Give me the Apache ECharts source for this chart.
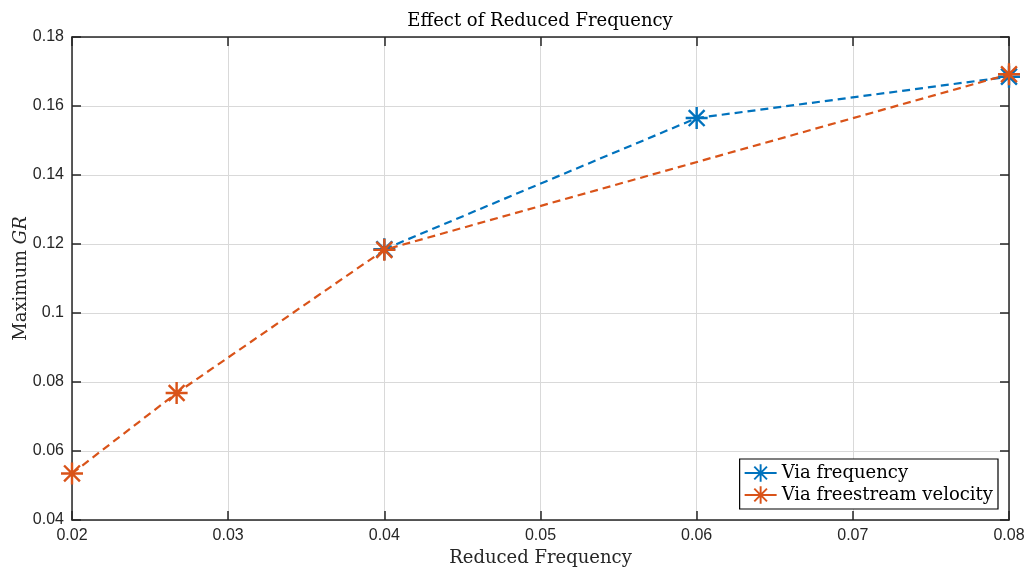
<!DOCTYPE html>
<html>
<head>
<meta charset="utf-8">
<script src="https://cdn.jsdelivr.net/npm/echarts@6/dist/echarts.min.js"></script>
<style>html,body{margin:0;padding:0;background:#fff;}#chart{width:1027px;height:570px;}</style>
</head>
<body>
<div id="chart"></div>
<script>
// Data
const freqX = [0.04, 0.06, 0.08];
const freqY = [0.1185, 0.1565, 0.1685];
const velX = [0.02, 0.0267, 0.04, 0.08];
const velY = [0.0535, 0.0768, 0.1183, 0.1692];
const seriesNames = ['Via frequency', 'Via freestream velocity'];
const xTicks = {min: 0.02, max: 0.08, interval: 0.01};
const yTicks = {min: 0.04, max: 0.18, interval: 0.02};

const asterisk = 'path://M0,8.9L20,8.9L20,11.1L0,11.1Z' +
  'M8.9,0L11.1,0L11.1,20L8.9,20Z' +
  'M3.578,2.022L17.978,16.422L16.422,17.978L2.022,3.578Z' +
  'M2.022,16.422L16.422,2.022L17.978,3.578L3.578,17.978Z';

const axisColor = '#262626';
const gridColor = '#d9d9d9';
const serif = '"DejaVu Serif", "Liberation Serif", serif';
const sans = '"Liberation Sans", Arial, sans-serif';

const chart = echarts.init(document.getElementById('chart'), null, {renderer: 'canvas'});
const zip = (xs, ys) => xs.map((x, i) => [x, ys[i]]);

const option = {
  animation: false,
  backgroundColor: '#fff',
  title: {
    text: 'Effect of Reduced Frequency',
    left: 535, textAlign: 'center', top: 7,
    textStyle: {fontFamily: serif, fontSize: 18, fontWeight: 'normal', color: '#000'}
  },
  grid: {left: 72, right: 18, top: 37, bottom: 50, containLabel: false, outerBoundsMode: 'none'},
  legend: {
    orient: 'vertical',
    right: 29, bottom: 61,
    backgroundColor: '#fff',
    borderColor: '#000', borderWidth: 1.2,
    padding: [5, 5, 5, 4],
    itemGap: 4,
    itemWidth: 32, itemHeight: 22,
    lineStyle: {type: 'solid'},
    textStyle: {fontFamily: serif, fontSize: 18, color: '#000'},
    data: seriesNames
  },
  xAxis: [{
    type: 'value', min: xTicks.min, max: xTicks.max, interval: xTicks.interval,
    name: 'Reduced Frequency', nameLocation: 'middle', nameGap: 29,
    nameTextStyle: {fontFamily: serif, fontSize: 18, color: '#262626'},
    axisLine: {show: true, lineStyle: {color: axisColor, width: 1.5}},
    axisTick: {show: true, inside: true, length: 9, lineStyle: {color: axisColor, width: 1.5}},
    axisLabel: {fontFamily: sans, fontSize: 16, color: axisColor, margin: 8},
    splitLine: {show: true, lineStyle: {color: gridColor, width: 1}}
  }, {
    type: 'value', position: 'top', min: xTicks.min, max: xTicks.max, interval: xTicks.interval,
    axisLine: {show: true, lineStyle: {color: axisColor, width: 1.5}},
    axisTick: {show: true, inside: true, length: 9, lineStyle: {color: axisColor, width: 1.5}},
    axisLabel: {show: false}, splitLine: {show: false}
  }],
  yAxis: [{
    type: 'value', min: yTicks.min, max: yTicks.max, interval: yTicks.interval,
    name: 'Maximum {i|GR}', nameLocation: 'middle', nameGap: 42, nameRotate: 90,
    nameMoveOverlap: false,
    nameTextStyle: {fontFamily: serif, fontSize: 18, color: '#262626',
      rich: {i: {fontFamily: serif, fontStyle: 'italic', fontSize: 18, color: '#262626'}}},
    axisLine: {show: true, lineStyle: {color: axisColor, width: 1.5}},
    axisTick: {show: true, inside: true, length: 9, lineStyle: {color: axisColor, width: 1.5}},
    axisLabel: {fontFamily: sans, fontSize: 16, color: axisColor, margin: 8},
    splitLine: {show: true, lineStyle: {color: gridColor, width: 1}}
  }, {
    type: 'value', position: 'right', min: yTicks.min, max: yTicks.max, interval: yTicks.interval,
    axisLine: {show: true, lineStyle: {color: axisColor, width: 1.5}},
    axisTick: {show: true, inside: true, length: 9, lineStyle: {color: axisColor, width: 1.5}},
    axisLabel: {show: false}, splitLine: {show: false}
  }],
  series: [{
    name: seriesNames[0], type: 'line', data: zip(freqX, freqY),
    color: '#0072BD',
    lineStyle: {color: '#0072BD', width: 2.2, type: [8, 5]},
    symbol: asterisk, symbolSize: 22, showAllSymbol: true,
    itemStyle: {color: '#0072BD'}, z: 2
  }, {
    name: seriesNames[1], type: 'line', data: zip(velX, velY),
    color: '#D95319',
    lineStyle: {color: '#D95319', width: 2.2, type: [8, 5]},
    symbol: asterisk, symbolSize: 22, showAllSymbol: true,
    itemStyle: {color: '#D95319'}, z: 3
  }]
};
chart.setOption(option);
</script>
</body>
</html>
